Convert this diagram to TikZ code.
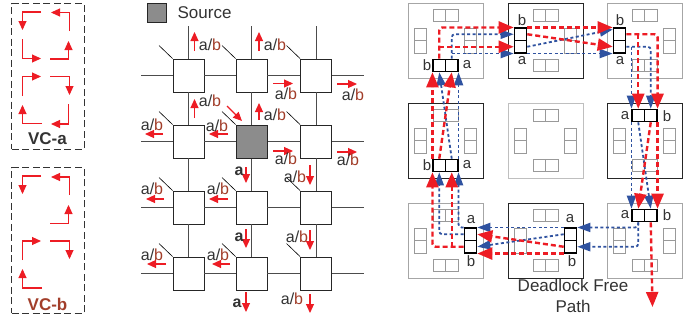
\documentclass[tikz,border=0pt]{standalone}
\usepackage{fontspec}
\setmainfont{Liberation Sans}
\usetikzlibrary{positioning,arrows.meta}

\definecolor{flowred}{HTML}{ED1C24}
\definecolor{flowblue}{HTML}{2F52A0}
\definecolor{brownb}{HTML}{A23E2A}
\definecolor{inktext}{HTML}{333333}

\newcommand{\ab}{{\color{inktext}a/}{\color{brownb}b}}

\begin{document}
\begin{tikzpicture}[
		x=1pt, y=-1pt,
		vcbox/.style={rectangle, draw=black!80, dash pattern=on 7pt off 3.5pt, line width=0.8pt, minimum width=72.5pt, minimum height=145.5pt, inner sep=0pt},
		vclabel/.style={font=\fontsize{17}{19}\selectfont\bfseries, inner sep=0pt},
		turn/.style={draw=flowred, line width=1.1pt, -{Triangle[length=9pt,width=8pt]}},
		mesh/.style={rectangle, draw=black!85, fill=white, line width=0.9pt, minimum width=31pt, minimum height=33pt, inner sep=0pt},
		wire/.style={draw=black!70, line width=0.9pt},
		stub/.style={draw=black, line width=0.6pt},
		ablabel/.style={font=\fontsize{16}{18}\selectfont, inner sep=0pt},
		router/.style={rectangle, fill=white, line width=1pt, minimum width=75pt, minimum height=75pt, inner sep=0pt},
		cell/.style={rectangle, draw=black!40, line width=0.9pt, minimum width=12.5pt, minimum height=12.5pt, inner sep=0pt},
		hot/.style={rectangle, draw=black, fill=white, line width=1.1pt, minimum width=12.5pt, minimum height=12.5pt, inner sep=0pt},
		portlabel/.style={font=\fontsize{15}{17}\selectfont, text=inktext, inner sep=0pt},
		redflow/.style={draw=flowred, line width=2.4pt, dash pattern=on 5pt off 3pt, rounded corners=3pt, -{Triangle[length=15pt,width=12pt]}},
		blueflow/.style={draw=flowblue, line width=1.8pt, dash pattern=on 3pt off 2.5pt, rounded corners=3pt, -{Triangle[length=13pt,width=9pt]}}
]

\useasboundingbox (0,0) rectangle (699,322);

% VC boxes
\node [vcbox] (vcaBox) at (47.75,76.25) {};
\node [vcbox] (vcbBox) at (47.75,240.5) {};
\node [vclabel, text=inktext] (vcaText) at (47.5,139) {VC-a};
\node [vclabel, text=brownb] (vcbText) at (47.5,304) {VC-b};

\foreach \nm/\xa/\ya/\xb/\yb/\xc/\yc in {
	ta1/41/12/22.5/12/22.5/30, ta2/22.5/39/22.5/58.5/41/58.5, ta3/50/59/68.5/59/68.5/41, ta4/69.5/31/69.5/12.5/51/12.5,
	ta5/22.5/96/22.5/76.5/41/76.5, ta6/50/76.5/69.5/76.5/69.5/95, ta7/68.5/104/68.5/124/51/124, ta8/42/123.5/22.5/123.5/22.5/105,
	tb1/41/176/22.5/176/22.5/194, tb3/50/223.5/68.5/223.5/68.5/205, tb4/69.5/195/69.5/177/51/177,
	tb5/22.5/260/22.5/241/41/241, tb6/50/241/69.5/241/69.5/259, tb8/42/288/22.5/288/22.5/269}{
	\coordinate (\nm-a) at (\xa,\ya);
	\coordinate (\nm-b) at (\xb,\yb);
	\coordinate (\nm-c) at (\xc,\yc);
	\draw [turn] (\nm-a) -- (\nm-b) -- (\nm-c);
}

% mesh
\node [rectangle, draw=black!85, fill=black!45, line width=0.9pt, minimum size=19pt, inner sep=0pt] (srcBox) at (156.5,12.5) {};
\node [font=\fontsize{17}{19}\selectfont, text=inktext, inner sep=0pt, right=11pt of srcBox] (srcText) {Source};

\foreach \rr/\yy in {1/75.5,2/141.5,3/207.5,4/273.5}{
	\foreach \cc/\xx in {1/188.5,2/251.5,3/316}{
		\node [mesh] (m\rr\cc) at (\xx,\yy) {};
		\coordinate (sk\rr\cc) at (\xx-29.5,\yy-30);
		\draw [stub] (m\rr\cc.north west) -- (sk\rr\cc);
	}
	\coordinate (wl\rr) at (141,\yy);
	\coordinate (wr\rr) at (364,\yy);
	\draw [wire] (wl\rr) -- (m\rr1) -- (m\rr2) -- (m\rr3) -- (wr\rr);
}
\foreach \cc/\xx in {1/188.5,2/251.5,3/316}{
	\coordinate (wt\cc) at (\xx,26);
	\draw [wire] (wt\cc) -- (m1\cc) -- (m2\cc) -- (m3\cc) -- (m4\cc);
}
\node [mesh, fill=black!45] (srcRouter) at (m22) {};

\foreach \nm/\xa/\ya/\xb/\yb in {
	up1/194.5/51/194.5/32, up2/259/51/259/32, up3/194.5/118/194.5/99, up4/259/120/259/103,
	rt1/273/83.5/293/83.5, rt2/337/84/357/84, rt3/273/151/293/151, rt4/337/152/357/152,
	lf1/163/134/145/134, lf2/228/134/209/134, lf3/164/199/146/199, lf4/228/199/209/199, lf5/166/264/147/264, lf6/230/264/212/264,
	dn1/246/167/246/183, dn2/310/165/310/185, dn3/246/229/246/248, dn4/310/230/310/250, dn5/246/292/246/312, dn6/310/294/310/313,
	dg1/227/106/242/121}{
	\coordinate (\nm-a) at (\xa,\ya);
	\coordinate (\nm-b) at (\xb,\yb);
	\draw [turn] (\nm-a) -- (\nm-b);
}

\foreach \nm/\xx/\yy in {
	ab1/210/45, ab2/275/45, ab3/286/94, ab4/353/95, ab5/210/101, ab6/275/115, ab7/152/125, ab8/217/126,
	ab9/286/159, ab10/348/160, ab11/295/177, ab12/152/189, ab13/218/189, ab14/297/237, ab15/152/255, ab16/218/255, ab17/292/299}{
	\node [ablabel] (\nm) at (\xx,\yy) {\ab};
}
\foreach \nm/\xx/\yy in {aa1/239/171, aa2/239/237, aa3/237/303}{
	\node [ablabel, font=\fontsize{16}{18}\selectfont\bfseries, text=inktext] (\nm) at (\xx,\yy) {a};
}

% routers
\foreach \name/\ox/\oy/\col in {
	nw/408/3/black!35, nn/508/3/black!85, ne/607/3/black!35,
	ww/408/103/black!85, cc/508/103/black!25, ee/607/103/black!85,
	sw/408/203/black!35, ss/508/203/black!85, se/607/203/black!35}{
	\node [router, draw=\col] (\name) at ({\ox+37.5},{\oy+37.5}) {};
	\node [cell] (\name-t1) at ({\ox+31.25},{\oy+12.5}) {};
	\node [cell] (\name-t2) at ({\ox+43.75},{\oy+12.5}) {};
	\node [cell] (\name-b1) at ({\ox+31.25},{\oy+62.5}) {};
	\node [cell] (\name-b2) at ({\ox+43.75},{\oy+62.5}) {};
	\node [cell] (\name-l1) at ({\ox+12.5},{\oy+31.25}) {};
	\node [cell] (\name-l2) at ({\ox+12.5},{\oy+43.75}) {};
	\node [cell] (\name-r1) at ({\ox+62.5},{\oy+31.25}) {};
	\node [cell] (\name-r2) at ({\ox+62.5},{\oy+43.75}) {};
}

\foreach \hotname/\base in {
	nw-b/nw-b1, nw-a/nw-b2, nn-b/nn-l1, nn-a/nn-l2, ne-b/ne-l1, ne-a/ne-l2,
	ee-a/ee-t1, ee-b/ee-t2, ww-b/ww-b1, ww-a/ww-b2,
	sw-a/sw-r1, sw-b/sw-r2, ss-a/ss-r1, ss-b/ss-r2, se-a/se-t1, se-b/se-t2}{
	\node [hot] (\hotname) at (\base) {};
}

\foreach \nm/\xx/\yy/\txt in {
	lb1/427/65/b, lb2/467/65/a, lb3/522/20/b, lb4/522/61/a, lb5/620/20/b, lb6/620/61/a,
	lb7/625/116/a, lb8/667/116/b, lb9/427/165/b, lb10/467/165/a,
	lb11/471/220/a, lb12/471/261/b, lb13/570/219/a, lb14/572/261/b, lb15/625/215/a, lb16/667/215/b}{
	\node [portlabel] (\nm) at (\xx,\yy) {\txt};
}

% blue paths
\draw [blueflow] (nw-a.north) |- (nn-b.west);
\draw [blueflow] (nw-a.north |- nn-a.south west) -- (nn-a.south west);
\draw [blueflow] (nn-a.east) -- ([yshift=-2pt]ne-b.north west);
\draw [blueflow] (nn-a.south east) -- (ne-a.south west);
\draw [blueflow] (ne-a.east) -| (ee-b.north);
\draw [blueflow] (ee-a.north west |- ne-a.east) -- (ee-a.north west);
\draw [blueflow] (ee-a.south west) -- (se-a.north west);
\draw [blueflow] (ee-a.south) -- (se-b.north);
\draw [blueflow] (se-a.south) |- (ss-a.north east);
\draw [blueflow] (se-a.south) |- (ss-b.east);
\draw [blueflow] (ss-a.north west) -- (sw-a.north east);
\draw [blueflow] (ss-a.west) -- (sw-b.east);
\draw [blueflow] (sw-a.west) -| (ww-b.south);
\draw [blueflow] (sw-a.north west) -| (ww-a.south east);
\draw [blueflow] (ww-a.north) -- (nw-b.south);
\draw [blueflow] (ww-a.north east) -- (nw-a.south east);

% red paths
\coordinate (exitEnd) at (652.5,307);
\draw [redflow] (nw-b.north) |- (nn-b.north west);
\draw [redflow] (nw-b.north |- nn-a.west) -- (nn-a.west);
\draw [redflow] (nn-b.north east) -- (ne-b.north west);
\draw [redflow] (nn-b.east) -- (ne-a.west);
\draw [redflow] (ne-b.east) -| (ee-b.north east);
\draw [redflow] (ee-a.north |- ne-b.east) -- (ee-a.north);
\draw [redflow] (ee-b.south east) -- (se-b.north east);
\draw [redflow] (ee-b.south) -- (se-a.north);
\draw [redflow] (se-b.south) -- (exitEnd);
\draw [redflow] (ss-b.west) -- (sw-a.east);
\draw [redflow] (ss-b.south west) -- (sw-b.south east);
\draw [redflow] (sw-b.west) -| (ww-b.south west);
\draw [redflow] (ww-a.south |- sw-b.west) -- (ww-a.south);
\draw [redflow] (ww-b.north west) -- (nw-b.south west);
\draw [redflow] (ww-b.north) -- (nw-a.south);

\node [font=\fontsize{17}{21}\selectfont, text=inktext, align=center, inner sep=0pt] (pathText) at (573,295.5) {Deadlock Free\\Path};

\end{tikzpicture}
\end{document}
